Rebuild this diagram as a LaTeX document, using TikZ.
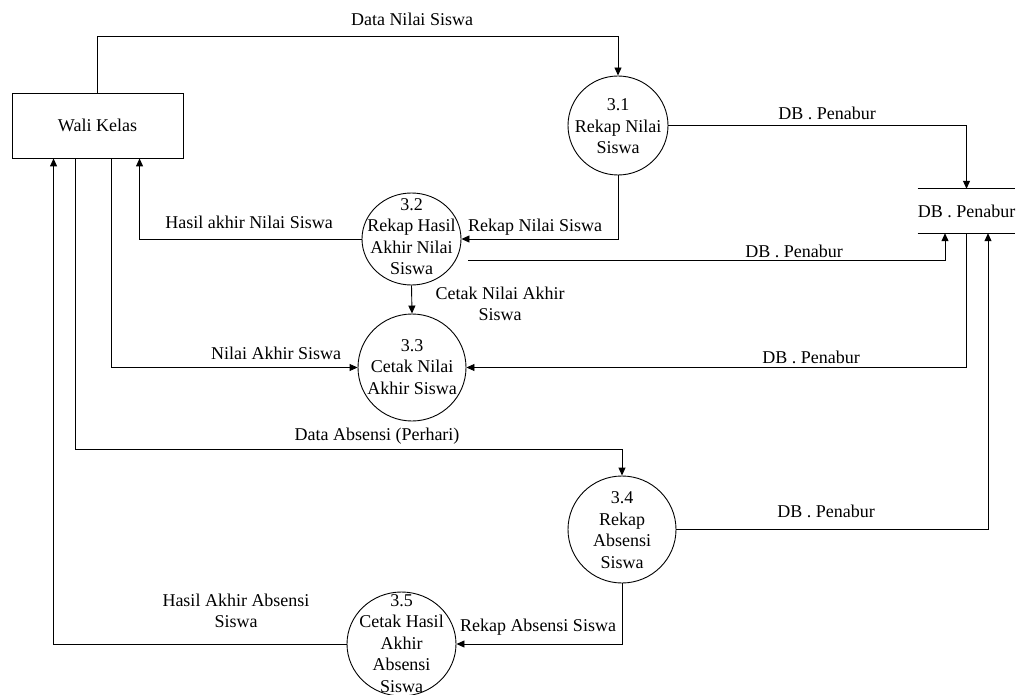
\documentclass[tikz,border=0pt]{standalone}
\usepackage{fontspec}
\setmainfont{Liberation Serif}
\usetikzlibrary{arrows.meta,shapes.geometric}
\tikzset{
  lbl/.style={font=\fontsize{18}{21.5}\selectfont, inner sep=0pt, align=center},
  proc/.style={draw, ellipse, inner sep=0pt, line width=0.9pt},
  ent/.style={draw, rectangle, inner sep=0pt, line width=0.9pt, minimum width=171pt, minimum height=65pt, font=\fontsize{18}{21.5}\selectfont},
  storebox/.style={rectangle, inner sep=0pt, minimum width=87pt, minimum height=44pt, font=\fontsize{18}{21.5}\selectfont},
  flow/.style={line width=0.9pt, -{Triangle[length=8pt,width=7pt]}},
  plain/.style={line width=0.9pt}
}
\begin{document}
\begin{tikzpicture}[x=1pt,y=-1pt]
\useasboundingbox (0,0) rectangle (1019,695);
% entity
\node[ent] (wali) at (97.5,125.5) {Wali Kelas};
% processes
\node[proc, minimum width=100pt, minimum height=99pt] (p31) at (618,125.5) {};
\node[lbl] (t31) at (618,126.5) {3.1\\Rekap Nilai\\Siswa};
\node[proc, minimum width=99pt, minimum height=92pt] (p32) at (411.5,239) {};
\node[lbl] (t32) at (411.5,236.5) {3.2\\Rekap Hasil\\Akhir Nilai\\Siswa};
\node[proc, minimum width=108pt, minimum height=107pt] (p33) at (412,367.5) {};
\node[lbl] (t33) at (412,367) {3.3\\Cetak Nilai\\Akhir Siswa};
\node[proc, minimum width=108pt, minimum height=107pt] (p34) at (622,529.5) {};
\node[lbl] (t34) at (622,530) {3.4\\Rekap\\Absensi\\Siswa};
\node[proc, minimum width=109pt, minimum height=104pt] (p35) at (401.5,644) {};
\node[lbl] (t35) at (401.5,643.5) {3.5\\Cetak Hasil\\Akhir\\Absensi\\Siswa};
% data store
\node[storebox] (db) at (966.5,211) {DB . Penabur};
\draw[plain] (db.north west) -- (db.north east);
\draw[plain] (db.south west) -- (db.south east);
% flows
\draw[flow] (wali.north) -- ++(0,-56) -| (p31.north);
\draw[flow] (p31.east) -| (db.north);
\draw[flow] (p31.south) |- (p32.east);
\draw[flow] (p32.west) -| ([xshift=128pt]wali.south west);
\draw[flow] ([xshift=7pt,yshift=-21pt]p32.east) -| ([xshift=-21.5pt]db.south);
\draw[flow] (p32.south) -- (p33.north);
\draw[flow] (db.south) |- (p33.east);
\draw[flow] ([xshift=100pt]wali.south west) |- (p33.west);
\draw[flow] ([xshift=64pt]wali.south west) -- ++(0,291) -| (p34.north);
\draw[flow] (p34.east) -| ([xshift=21.5pt]db.south);
\draw[flow] (p34.south) |- (p35.east);
\draw[flow] (p35.west) -| ([xshift=42pt]wali.south west);
% flow labels
\node[lbl] (l1) at (412,19) {Data Nilai Siswa};
\node[lbl] (l2) at (827,113) {DB . Penabur};
\node[lbl] (l3) at (535,227) {Rekap Nilai Siswa};
\node[lbl] (l4) at (249,222) {Hasil akhir Nilai Siswa};
\node[lbl] (l5) at (794,251) {DB . Penabur};
\node[lbl] (l6) at (500,304) {Cetak Nilai Akhir\\Siswa};
\node[lbl] (l7) at (811,357) {DB . Penabur};
\node[lbl] (l8) at (276,353) {Nilai Akhir Siswa};
\node[lbl] (l9) at (377,436) {Data Absensi (Perhari)};
\node[lbl] (l10) at (826,511) {DB . Penabur};
\node[lbl] (l11) at (538,627) {Rekap Absensi Siswa};
\node[lbl] (l12) at (236,611) {Hasil Akhir Absensi\\Siswa};
\end{tikzpicture}
\end{document}
